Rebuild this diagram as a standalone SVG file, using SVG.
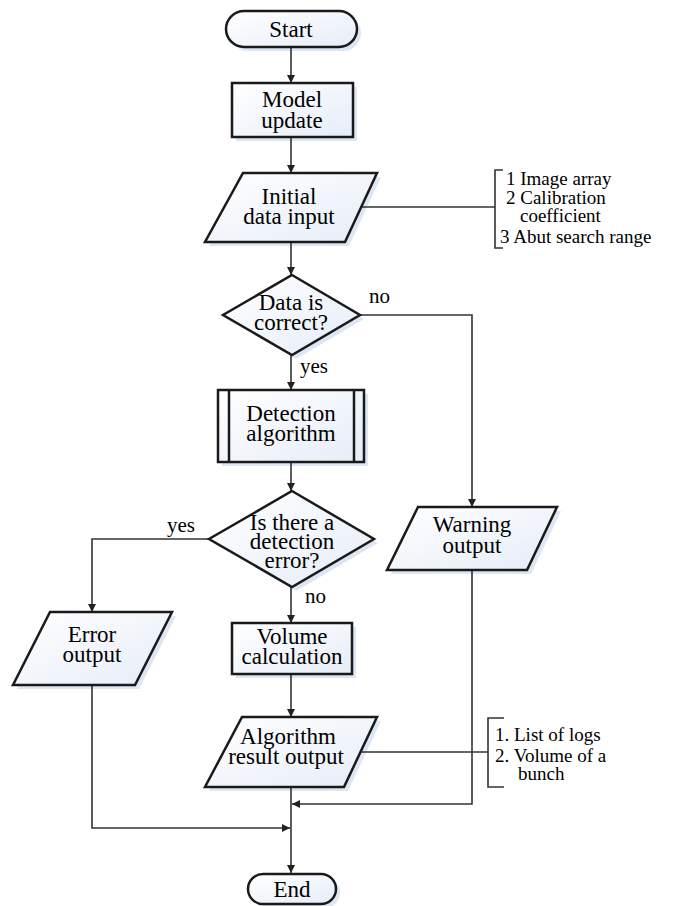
<svg xmlns="http://www.w3.org/2000/svg" width="673" height="906" viewBox="0 0 673 906">
<defs>
<linearGradient id="g" x1="0" y1="0" x2="1" y2="1">
<stop offset="0" stop-color="#ffffff"/>
<stop offset="1" stop-color="#e6edf8"/>
</linearGradient>
<marker id="ar" viewBox="0 0 10 10" refX="10" refY="5" markerWidth="8" markerHeight="8" markerUnits="userSpaceOnUse" orient="auto">
<path d="M0,0 L10,5 L0,10 z" fill="#222"/>
</marker>
</defs>
<rect width="673" height="906" fill="#ffffff"/>
<g id="shadows" fill="#dde6f3" transform="translate(4,4)">
<rect x="226" y="11" width="131" height="36" rx="18"/>
<rect x="232" y="83" width="121" height="54"/>
<polygon points="243,173 377,173 345,242 205,242"/>
<polygon points="292,275 360,315 292,355 223,315"/>
<rect x="218" y="390" width="146" height="72"/>
<polygon points="292,491 374,539 292,587 209,539"/>
<polygon points="418,507 557,507 527,570 387,570"/>
<polygon points="50,612 172,612 135,685 13,685"/>
<rect x="232" y="623" width="120" height="51"/>
<polygon points="242,717 377,717 344,787 205,787"/>
<rect x="248" y="874" width="88" height="30" rx="15"/>
</g>
<g id="connectors" fill="none" stroke="#333" stroke-width="1.6">
<path d="M291,47 V83" marker-end="url(#ar)"/>
<path d="M291,137 V173" marker-end="url(#ar)"/>
<path d="M291,242 V275" marker-end="url(#ar)"/>
<path d="M291,355 V390" marker-end="url(#ar)"/>
<path d="M291,462 V491" marker-end="url(#ar)"/>
<path d="M291,587 V623" marker-end="url(#ar)"/>
<path d="M291,674 V717" marker-end="url(#ar)"/>
<path d="M291,787 V873" marker-end="url(#ar)"/>
<path d="M360,315 H472 V507" marker-end="url(#ar)"/>
<path d="M472,570 V804 H292" marker-end="url(#ar)"/>
<path d="M209,539 H92 V612" marker-end="url(#ar)"/>
<path d="M92,685 V828 H290" marker-end="url(#ar)"/>
<path d="M361,207 H495"/>
<path d="M503,170 H495 V248 H503"/>
<path d="M361,752 H488"/>
<path d="M504,718 H488 V787 H504"/>
</g>
<g id="start">
<rect fill="url(#g)" stroke="#1a1a1a" stroke-width="2.5" x="226" y="11" width="131" height="36" rx="18"/>
<text font-family="Times New Roman" font-size="23" text-anchor="middle" x="291" y="37">Start</text>
</g>
<g id="model-update">
<rect fill="url(#g)" stroke="#1a1a1a" stroke-width="2.5" x="232" y="83" width="121" height="54"/>
<text font-family="Times New Roman" font-size="23" text-anchor="middle" x="292" y="107">Model</text>
<text font-family="Times New Roman" font-size="23" text-anchor="middle" x="292" y="128">update</text>
</g>
<g id="initial-data-input">
<polygon fill="url(#g)" stroke="#1a1a1a" stroke-width="2.5" points="243,173 377,173 345,242 205,242"/>
<text font-family="Times New Roman" font-size="23" text-anchor="middle" x="289" y="204">Initial</text>
<text font-family="Times New Roman" font-size="23" text-anchor="middle" x="289" y="224">data input</text>
</g>
<g id="input-notes">
<text font-family="Times New Roman" font-size="19" x="506" y="185">1 Image array</text>
<text font-family="Times New Roman" font-size="19" x="506" y="204">2 Calibration</text>
<text font-family="Times New Roman" font-size="19" x="520" y="222">coefficient</text>
<text font-family="Times New Roman" font-size="19" x="500" y="243">3 Abut search range</text>
</g>
<g id="data-correct">
<polygon fill="url(#g)" stroke="#1a1a1a" stroke-width="2.5" points="292,275 360,315 292,355 223,315"/>
<text font-family="Times New Roman" font-size="23" text-anchor="middle" x="291" y="310">Data is</text>
<text font-family="Times New Roman" font-size="23" text-anchor="middle" x="291" y="330">correct?</text>
</g>
<text font-family="Times New Roman" font-size="21" x="369" y="303">no</text>
<text font-family="Times New Roman" font-size="21" x="300" y="373">yes</text>
<g id="detection-algorithm">
<rect fill="url(#g)" stroke="#1a1a1a" stroke-width="2.5" x="218" y="390" width="146" height="72"/>
<line x1="229" y1="390" x2="229" y2="462" stroke="#1a1a1a" stroke-width="2.5"/>
<line x1="354" y1="390" x2="354" y2="462" stroke="#1a1a1a" stroke-width="2.5"/>
<text font-family="Times New Roman" font-size="23" text-anchor="middle" x="291" y="421">Detection</text>
<text font-family="Times New Roman" font-size="23" text-anchor="middle" x="291" y="441">algorithm</text>
</g>
<g id="detection-error">
<polygon fill="url(#g)" stroke="#1a1a1a" stroke-width="2.5" points="292,491 374,539 292,587 209,539"/>
<text font-family="Times New Roman" font-size="23" text-anchor="middle" x="292" y="530">Is there a</text>
<text font-family="Times New Roman" font-size="23" text-anchor="middle" x="292" y="549">detection</text>
<text font-family="Times New Roman" font-size="23" text-anchor="middle" x="292" y="568">error?</text>
</g>
<text font-family="Times New Roman" font-size="21" x="167" y="532">yes</text>
<text font-family="Times New Roman" font-size="21" x="305" y="603">no</text>
<g id="warning-output">
<polygon fill="url(#g)" stroke="#1a1a1a" stroke-width="2.5" points="418,507 557,507 527,570 387,570"/>
<text font-family="Times New Roman" font-size="23" text-anchor="middle" x="472" y="532">Warning</text>
<text font-family="Times New Roman" font-size="23" text-anchor="middle" x="472" y="553">output</text>
</g>
<g id="error-output">
<polygon fill="url(#g)" stroke="#1a1a1a" stroke-width="2.5" points="50,612 172,612 135,685 13,685"/>
<text font-family="Times New Roman" font-size="23" text-anchor="middle" x="92" y="642">Error</text>
<text font-family="Times New Roman" font-size="23" text-anchor="middle" x="92" y="662">output</text>
</g>
<g id="volume-calculation">
<rect fill="url(#g)" stroke="#1a1a1a" stroke-width="2.5" x="232" y="623" width="120" height="51"/>
<text font-family="Times New Roman" font-size="23" text-anchor="middle" x="292" y="644">Volume</text>
<text font-family="Times New Roman" font-size="23" text-anchor="middle" x="292" y="664">calculation</text>
</g>
<g id="algorithm-result-output">
<polygon fill="url(#g)" stroke="#1a1a1a" stroke-width="2.5" points="242,717 377,717 344,787 205,787"/>
<text font-family="Times New Roman" font-size="23" text-anchor="middle" x="288" y="744">Algorithm</text>
<text font-family="Times New Roman" font-size="23" text-anchor="middle" x="286" y="764">result output</text>
</g>
<g id="output-notes">
<text font-family="Times New Roman" font-size="19" x="495" y="741">1. List of logs</text>
<text font-family="Times New Roman" font-size="19" x="495" y="762">2. Volume of a</text>
<text font-family="Times New Roman" font-size="19" x="518" y="780">bunch</text>
</g>
<g id="end">
<rect fill="url(#g)" stroke="#1a1a1a" stroke-width="2.5" x="248" y="874" width="88" height="30" rx="15"/>
<text font-family="Times New Roman" font-size="23" text-anchor="middle" x="292" y="897">End</text>
</g>
</svg>
